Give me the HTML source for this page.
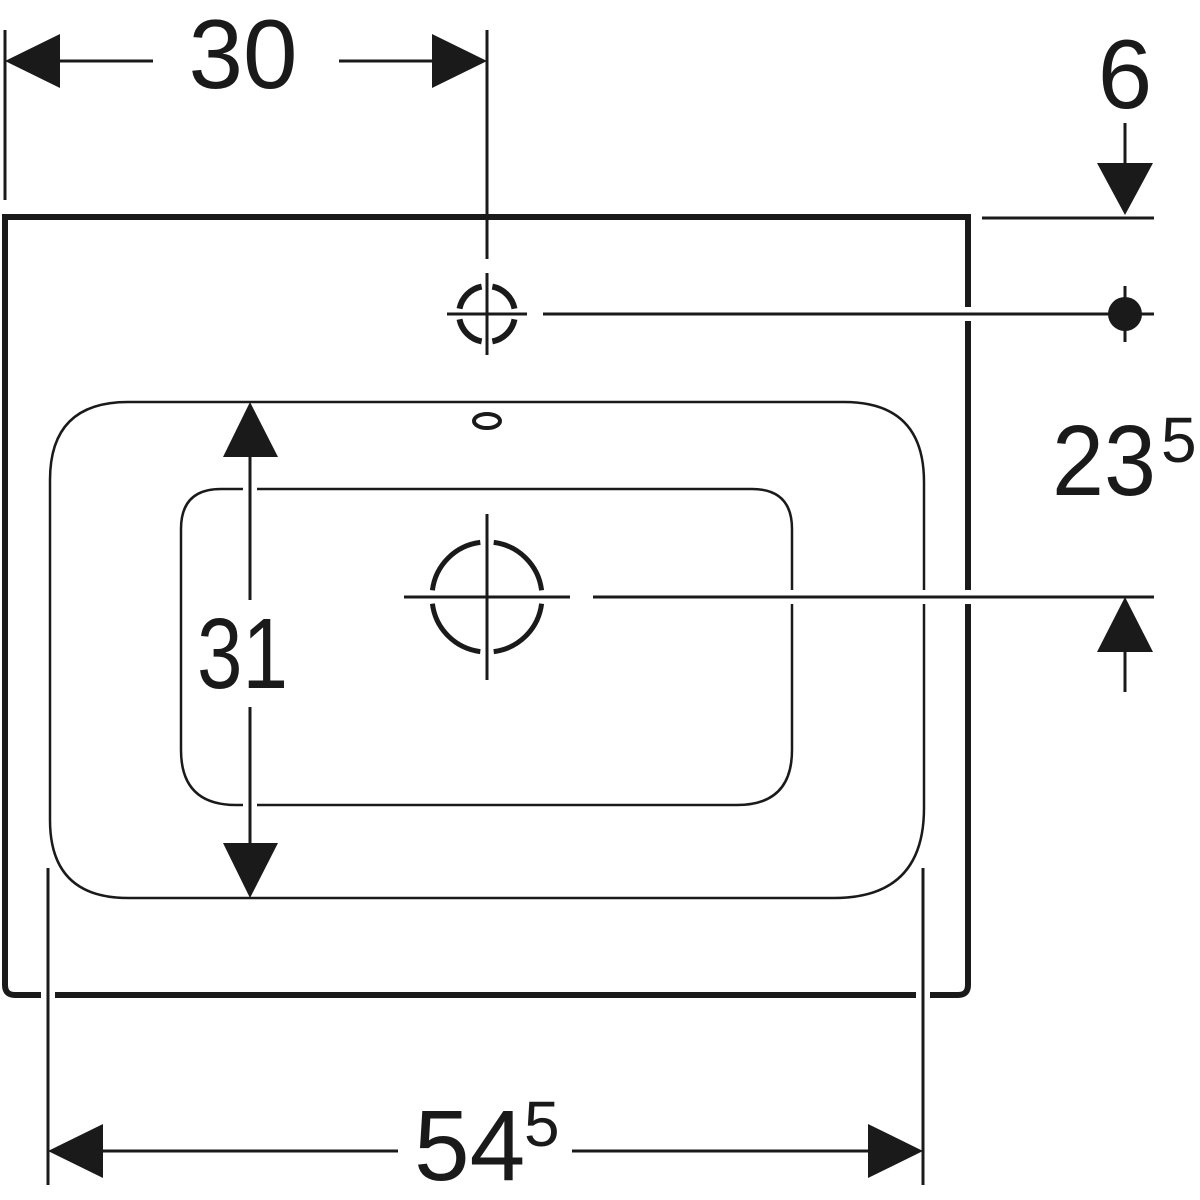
<!DOCTYPE html>
<html><head><meta charset="utf-8"><style>
html,body{margin:0;padding:0;background:#fff;}
svg{display:block;}
text{font-family:"Liberation Sans",sans-serif;fill:#1a1a1a;}
</style></head><body>
<svg width="1200" height="1200" viewBox="0 0 1200 1200" xmlns="http://www.w3.org/2000/svg">
<g fill="none" stroke="#1a1a1a" stroke-linecap="butt">
<path d="M5,217 H968 V985 Q968,995 958,995 H15 Q5,995 5,985 Z" stroke-width="6"/>
<path d="M128,402 H844 Q924,402 924,482 V808 Q924,898 834,898 H128 Q50,898 50,820 V480 Q50,402 128,402 Z" stroke-width="2.5"/>
<path d="M221,489 H752 Q792,489 792,529 V750 Q792,805 737,805 H236 Q181,805 181,750 V529 Q181,489 221,489 Z" stroke-width="2.5"/>
</g>
<g stroke="#fff" stroke-width="14">
<line x1="250" y1="410" x2="250" y2="890"/>
<line x1="48" y1="868" x2="48" y2="1010"/>
<line x1="923" y1="868" x2="923" y2="1010"/>
<line x1="543" y1="314" x2="1110" y2="314"/>
<line x1="593" y1="597" x2="1154" y2="597"/>
</g>
<g stroke="#1a1a1a" stroke-width="3" fill="none">
<line x1="5" y1="30" x2="5" y2="200"/>
<line x1="487" y1="30" x2="487" y2="259"/>
<line x1="55" y1="61" x2="153" y2="61"/>
<line x1="339" y1="61" x2="440" y2="61"/>
<line x1="1125" y1="123" x2="1125" y2="170"/>
<line x1="982" y1="218" x2="1154" y2="218"/>
<line x1="543" y1="314" x2="1154" y2="314"/>
<line x1="1125" y1="286" x2="1125" y2="342"/>
<line x1="447" y1="314" x2="527" y2="314"/>
<line x1="487" y1="273" x2="487" y2="355"/>
<line x1="404" y1="597" x2="570" y2="597"/>
<line x1="487" y1="514" x2="487" y2="680"/>
<line x1="593" y1="597" x2="1154" y2="597"/>
<line x1="1125" y1="645" x2="1125" y2="692"/>
<line x1="250" y1="450" x2="250" y2="600"/>
<line x1="250" y1="707" x2="250" y2="850"/>
<line x1="48" y1="868" x2="48" y2="1185"/>
<line x1="923" y1="868" x2="923" y2="1185"/>
<line x1="100" y1="1151" x2="398" y2="1151"/>
<line x1="572" y1="1151" x2="870" y2="1151"/>
</g>
<g fill="none" stroke="#1a1a1a">
<path stroke-width="6" d="M514.49,319.34 A28,28 0 0 1 492.34,341.49 M481.66,341.49 A28,28 0 0 1 459.51,319.34 M459.51,308.66 A28,28 0 0 1 481.66,286.51 M492.34,286.51 A28,28 0 0 1 514.49,308.66"/>
<path stroke-width="5" d="M541.59,603.70 A55,55 0 0 1 493.70,651.59 M480.30,651.59 A55,55 0 0 1 432.41,603.70 M432.41,590.30 A55,55 0 0 1 480.30,542.41 M493.70,542.41 A55,55 0 0 1 541.59,590.30"/>
<ellipse cx="487" cy="421" rx="13" ry="7" stroke-width="4"/>
</g>
<g fill="#1a1a1a">
<circle cx="1125" cy="314" r="17"/>
<polygon points="5,61 60,34 60,88"/>
<polygon points="487,61 432,34 432,88"/>
<polygon points="1125,215 1097,163 1153,163"/>
<polygon points="1125,597 1097,652 1153,652"/>
<polygon points="250,402 223,457 278,457"/>
<polygon points="250,898 223,843 278,843"/>
<polygon points="48,1151 103,1124 103,1178"/>
<polygon points="923,1151 868,1124 868,1178"/>
</g>
<text x="243" y="88" font-size="98" text-anchor="middle">30</text>
<text x="1125" y="108" font-size="98" text-anchor="middle">6</text>
<text x="1052" y="495" font-size="100" textLength="104" lengthAdjust="spacingAndGlyphs">23</text>
<text x="1161" y="462" font-size="64">5</text>
<text x="197" y="688" font-size="100" textLength="91" lengthAdjust="spacingAndGlyphs">31</text>
<text x="414" y="1180" font-size="100">54</text>
<text x="524" y="1146" font-size="64">5</text>
</svg>
</body></html>
